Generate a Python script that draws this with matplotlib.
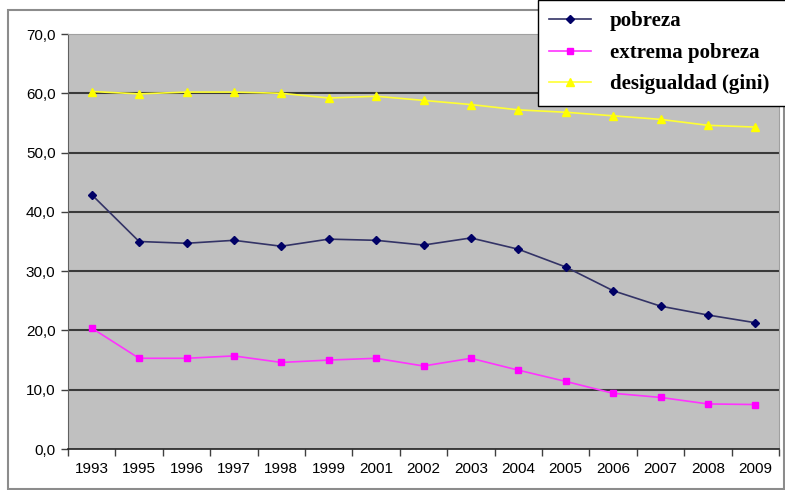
import numpy as np
import matplotlib
matplotlib.use("Agg")
import matplotlib.pyplot as plt
from matplotlib.patches import Rectangle
from matplotlib.ticker import FuncFormatter, FixedLocator

years = ["1993", "1995", "1996", "1997", "1998", "1999", "2001", "2002",
         "2003", "2004", "2005", "2006", "2007", "2008", "2009"]
pobreza = [42.9, 35.0, 34.7, 35.2, 34.2, 35.4, 35.2, 34.4,
           35.6, 33.7, 30.7, 26.7, 24.1, 22.6, 21.3]
extrema = [20.4, 15.3, 15.3, 15.7, 14.6, 15.0, 15.3, 14.0,
           15.3, 13.3, 11.4, 9.4, 8.7, 7.6, 7.5]
gini = [60.3, 59.9, 60.2, 60.2, 60.0, 59.2, 59.5, 58.8,
        58.1, 57.2, 56.8, 56.2, 55.6, 54.6, 54.3]
labels = ["pobreza", "extrema pobreza", "desigualdad (gini)"]

plt.rcParams["font.family"] = ["Liberation Sans", "DejaVu Sans"]

W, H = 785, 490
fig = plt.figure(figsize=(W / 100, H / 100), dpi=100)
fig.patch.set_facecolor("white")

# outer chart frame
fig.patches.append(Rectangle((8 / W, 1 / H), (W - 9) / W, (H - 11) / H,
                             transform=fig.transFigure, fill=False,
                             edgecolor="#8c8c8c", linewidth=1.5, zorder=0))

ax = fig.add_axes([68 / W, 1 - 449 / H, (779 - 68) / W, (449 - 34) / H])
ax.set_facecolor("#c0c0c0")

x = np.arange(len(years))
ax.plot(x, pobreza, color="#333366", lw=1.2, marker="D", ms=4.5,
        mfc="#000066", mec="#000066", label=labels[0], zorder=3)
ax.plot(x, extrema, color="#ff33ff", lw=1.2, marker="s", ms=4.5,
        mfc="#ff00ff", mec="#ff00ff", label=labels[1], zorder=3)
ax.plot(x, gini, color="#ffff33", lw=1.2, marker="^", ms=5.5,
        mfc="#ffff00", mec="#ffff00", label=labels[2], zorder=3)

ax.set_xlim(-0.5, len(years) - 0.5)
ax.set_ylim(0, 70)
ax.set_yticks(np.arange(0, 71, 10))
ax.yaxis.set_major_formatter(FuncFormatter(lambda v, p: f"{v:.1f}".replace(".", ",")))
ax.set_xticks(x)
ax.set_xticklabels(years)
ax.xaxis.set_minor_locator(FixedLocator(np.arange(-0.5, len(years), 1)))
ax.tick_params(axis="x", which="major", length=0, pad=9, labelsize=11)
ax.tick_params(axis="x", which="minor", length=5, width=1, color="#404040", direction="out")
ax.tick_params(axis="y", length=5, width=1, color="#404040", labelsize=11, pad=4)

for v in range(10, 70, 10):
    ax.axhline(v, color="#3a3a3a", lw=1.5, zorder=1)

for s in ["top", "right"]:
    ax.spines[s].set_color("#a0a0a0")
    ax.spines[s].set_linewidth(0.8)
ax.spines["left"].set_color("#606060")
ax.spines["bottom"].set_color("#202020")
ax.spines["bottom"].set_linewidth(1.2)

leg = fig.legend(loc="upper left", bbox_to_anchor=(538 / W, 1.0, 260 / W, 0.0),
                 mode="expand", frameon=True, fancybox=False, framealpha=1.0,
                 handlelength=2.0, handletextpad=0.9, labelspacing=0.55,
                 borderpad=0.55, borderaxespad=0.0,
                 prop={"family": "Liberation Serif", "weight": "bold", "size": 15})
leg.get_frame().set_edgecolor("black")
leg.get_frame().set_linewidth(1.0)

fig.savefig("out.png", dpi=100)
